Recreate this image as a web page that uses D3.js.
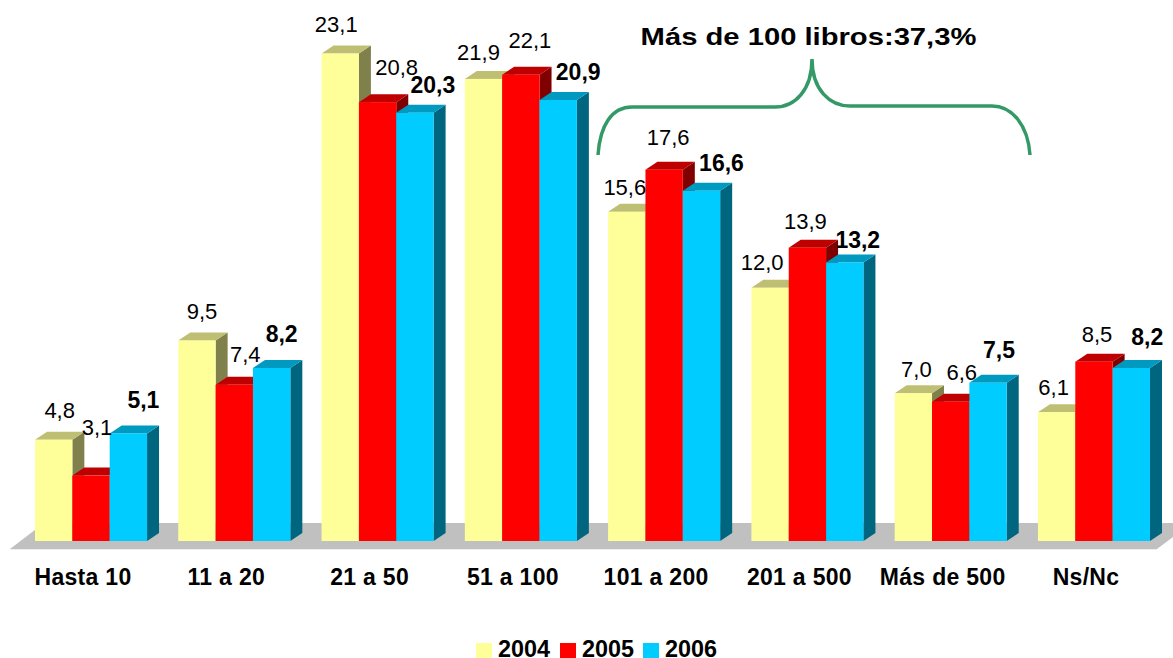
<!DOCTYPE html>
<html>
<head>
<meta charset="utf-8">
<script src="https://cdn.jsdelivr.net/npm/d3@7"></script>
<style>
  html, body { margin: 0; padding: 0; background: #fff; overflow: hidden; }
  text { font-family: "Liberation Sans", Arial, sans-serif; fill: #000; }
</style>
</head>
<body>
<svg id="chart" width="1173" height="658"></svg>
<script>
const categories = ["Hasta 10", "11 a 20", "21 a 50", "51 a 100", "101 a 200", "201 a 500", "Más de 500", "Ns/Nc"];
const years = ["2004", "2005", "2006"];
const values2004 = [4.8, 9.5, 23.1, 21.9, 15.6, 12.0, 7.0, 6.1];
const values2005 = [3.1, 7.4, 20.8, 22.1, 17.6, 13.9, 6.6, 8.5];
const values2006 = [5.1, 8.2, 20.3, 20.9, 16.6, 13.2, 7.5, 8.2];
const series = [values2004, values2005, values2006];

const frontColors = ["#FFFF99", "#FF0000", "#00CCFF"];
const topColors = ["#BFBF73", "#BF0000", "#0099BF"];
const sideColors = ["#80804D", "#800000", "#006680"];

// hand placed labels in the original, offsets from bar centre / bar top
const labelDx = [[6, 5, -4, -5, -2, -8, 3, -3], [6, 11, 19, 9, 4, -2, 11, 3], [15, 10, 18, 20, 20, 13, 11, 16]];
const labelDy = [[-22, -22, -22, -19, -17, -18, -16, -17], [-41, -23, -27, -27, -25, -19, -22, -20], [-25, -26, -20, -20, -20, -14, -25, -23]];

const svg = d3.select("#chart");
const depthX = 12, depthY = 8;
const baseY = 541;

const x0 = d3.scaleBand().domain(categories).range([35, 1150]).paddingInner(0.218);
const x1 = d3.scaleBand().domain(years).range([0, x0.bandwidth()]);
const y = d3.scaleLinear().domain([0, 23.1]).range([baseY, 53.6]);

// floor
svg.append("polygon")
  .attr("points", [[10, 549], [1157, 549], [1192, 523], [44, 523]].join(" "))
  .attr("fill", "#C0C0C0");
svg.append("line")
  .attr("x1", 10).attr("x2", 1157).attr("y1", 549.5).attr("y2", 549.5)
  .attr("stroke", "#EDEDED");

// bars
categories.forEach((cat, i) => {
  let g = svg.append("g").attr("transform", `translate(${x0(cat)},0)`);
  years.forEach((yr, s) => {
    let v = series[s][i];
    let l = x1(yr), r = l + x1.bandwidth(), t = y(v);

    g.append("polygon")
      .attr("points", [[r, baseY], [r + depthX, baseY - depthY], [r + depthX, t - depthY], [r, t]].join(" "))
      .attr("fill", sideColors[s]);
    g.append("polygon")
      .attr("points", [[l, t], [l + depthX, t - depthY], [r + depthX, t - depthY], [r, t]].join(" "))
      .attr("fill", topColors[s]);
    g.append("rect")
      .attr("x", l).attr("y", t)
      .attr("width", x1.bandwidth())
      .attr("height", baseY - t)
      .attr("fill", frontColors[s]);
  });
});

// value labels on top of everything
categories.forEach((cat, i) => {
  years.forEach((yr, s) => {
    let v = series[s][i];
    svg.append("text")
      .attr("x", x0(cat) + x1(yr) + x1.bandwidth() / 2 + labelDx[s][i])
      .attr("y", y(v) + labelDy[s][i])
      .attr("text-anchor", "middle")
      .attr("font-size", s === 2 ? 23 : 22)
      .attr("font-weight", s === 2 ? "bold" : "normal")
      .text(v.toFixed(1).replace(".", ","));
  });
});

// category labels
svg.selectAll(".cat")
  .data(categories)
  .join("text")
  .attr("class", "cat")
  .attr("x", d => x0(d) + x0.bandwidth() / 2 - 8)
  .attr("y", 585)
  .attr("text-anchor", "middle")
  .attr("font-size", 23)
  .attr("font-weight", "bold")
  .attr("letter-spacing", 0.3)
  .text(d => d);

// brace and its note
svg.append("path")
  .attr("d", "M598,155 C600,125 612,107 632,107 L775,107 C795,107 812,90 812,59 C812,90 830,106 850,106 L992,106 C1012,106 1028,125 1030,155")
  .attr("fill", "none")
  .attr("stroke", "#339966")
  .attr("stroke-width", 3.5);
// note is stretched sideways in the original
svg.append("text")
  .attr("transform", "translate(808.5,45) scale(1.27,1)")
  .attr("text-anchor", "middle")
  .attr("font-size", 23)
  .attr("font-weight", "bold")
  .text("Más de 100 libros:37,3%");

// legend
let legendX = d3.scaleOrdinal().domain(years).range([476, 560, 643]);
let legend = svg.selectAll(".legend")
  .data(years)
  .join("g")
  .attr("class", "legend")
  .attr("transform", d => `translate(${legendX(d)},0)`);
legend.append("rect")
  .attr("y", 643).attr("width", 16).attr("height", 15)
  .attr("fill", (d, i) => frontColors[i]);
legend.append("text")
  .attr("x", 22).attr("y", 656.5)
  .attr("font-size", 23.4)
  .attr("font-weight", "bold")
  .text(d => d);
</script>
</body>
</html>
